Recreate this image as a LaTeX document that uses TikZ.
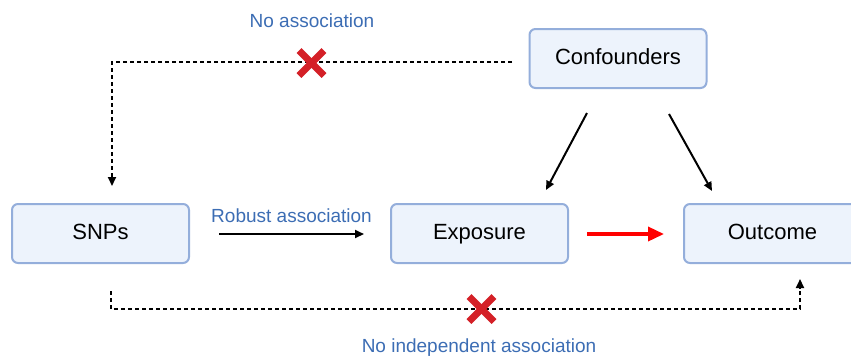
\documentclass[tikz,border=0pt]{standalone}
\usepackage{fontspec}
\setmainfont{Liberation Sans}
\usetikzlibrary{arrows.meta}

\definecolor{boxfill}{HTML}{EDF3FC}
\definecolor{boxline}{HTML}{94AEDB}
\definecolor{labelblue}{HTML}{3C6DB4}
\definecolor{crossred}{HTML}{D42027}

\tikzset{
  factor/.style={draw=boxline, fill=boxfill, line width=2pt, rounded corners=6pt,
    minimum width=177pt, minimum height=59pt, text height=15pt, text depth=4pt,
    font=\fontsize{22}{26}\selectfont},
  link/.style={line width=2pt, -{Triangle[length=9pt, width=8pt]}},
  nolink/.style={line width=2pt, dash pattern=on 4pt off 3pt, -{Triangle[length=9pt, width=8pt]}},
  note/.style={text=labelblue, font=\fontsize{19}{22}\selectfont},
  nocross/.pic={
    \draw[crossred, line width=7pt] (-12.5pt,-12.5pt) -- (12.5pt,12.5pt);
    \draw[crossred, line width=7pt] (-12.5pt,12.5pt) -- (12.5pt,-12.5pt);
  }
}

\begin{document}
\begin{tikzpicture}[x=1pt, y=-1pt]
			\useasboundingbox (0,0) rectangle (851,357);
			\clip (0,0) rectangle (851,357);
			\node[factor] (conf) at (618,58.5) {Confounders};
			\node[factor] (snps) at (100.5,233.5) {SNPs};
			\node[factor] (expo) at (479.5,233.5) {Exposure};
			\node[factor] (outc) at (772.5,233.5) {Outcome};
			% confounder arrows
			\coordinate (c1a) at (587,113);
			\coordinate (c1b) at (546,190);
			\coordinate (c2a) at (669,114);
			\coordinate (c2b) at (712,191);
			\draw[link] (c1a) -- (c1b);
			\draw[link] (c2a) -- (c2b);
			% instrument to exposure
			\coordinate (r1) at (219,234);
			\coordinate (r2) at (364,234);
			\draw[link] (r1) -- node[note, above=7pt] {Robust association} (r2);
			\coordinate (e1) at (587,234);
			\coordinate (e2) at (664,234);
			\draw[red, line width=3.5pt, -{Triangle[length=16pt, width=14pt]}] (e1) -- (e2);
			% excluded paths
			\coordinate (t1) at (512,62);
			\coordinate (t2) at (112,62);
			\coordinate (t3) at (112,186);
			\draw[nolink] (t1) -- (t2) -- (t3);
			\coordinate (b1) at (111,291);
			\coordinate (b2) at (111,309);
			\coordinate (b3) at (800,309);
			\coordinate (b4) at (800,279);
			\draw[nolink] (b1) -- (b2) -- (b3) -- (b4);
			\pic at (311.5,63) {nocross};
			\pic at (481.5,309) {nocross};
			\node[note] (noassoc) at (312,21) {No association};
			\node[note] (noindep) at (479,348) {No independent association};
		\end{tikzpicture}
\end{document}
